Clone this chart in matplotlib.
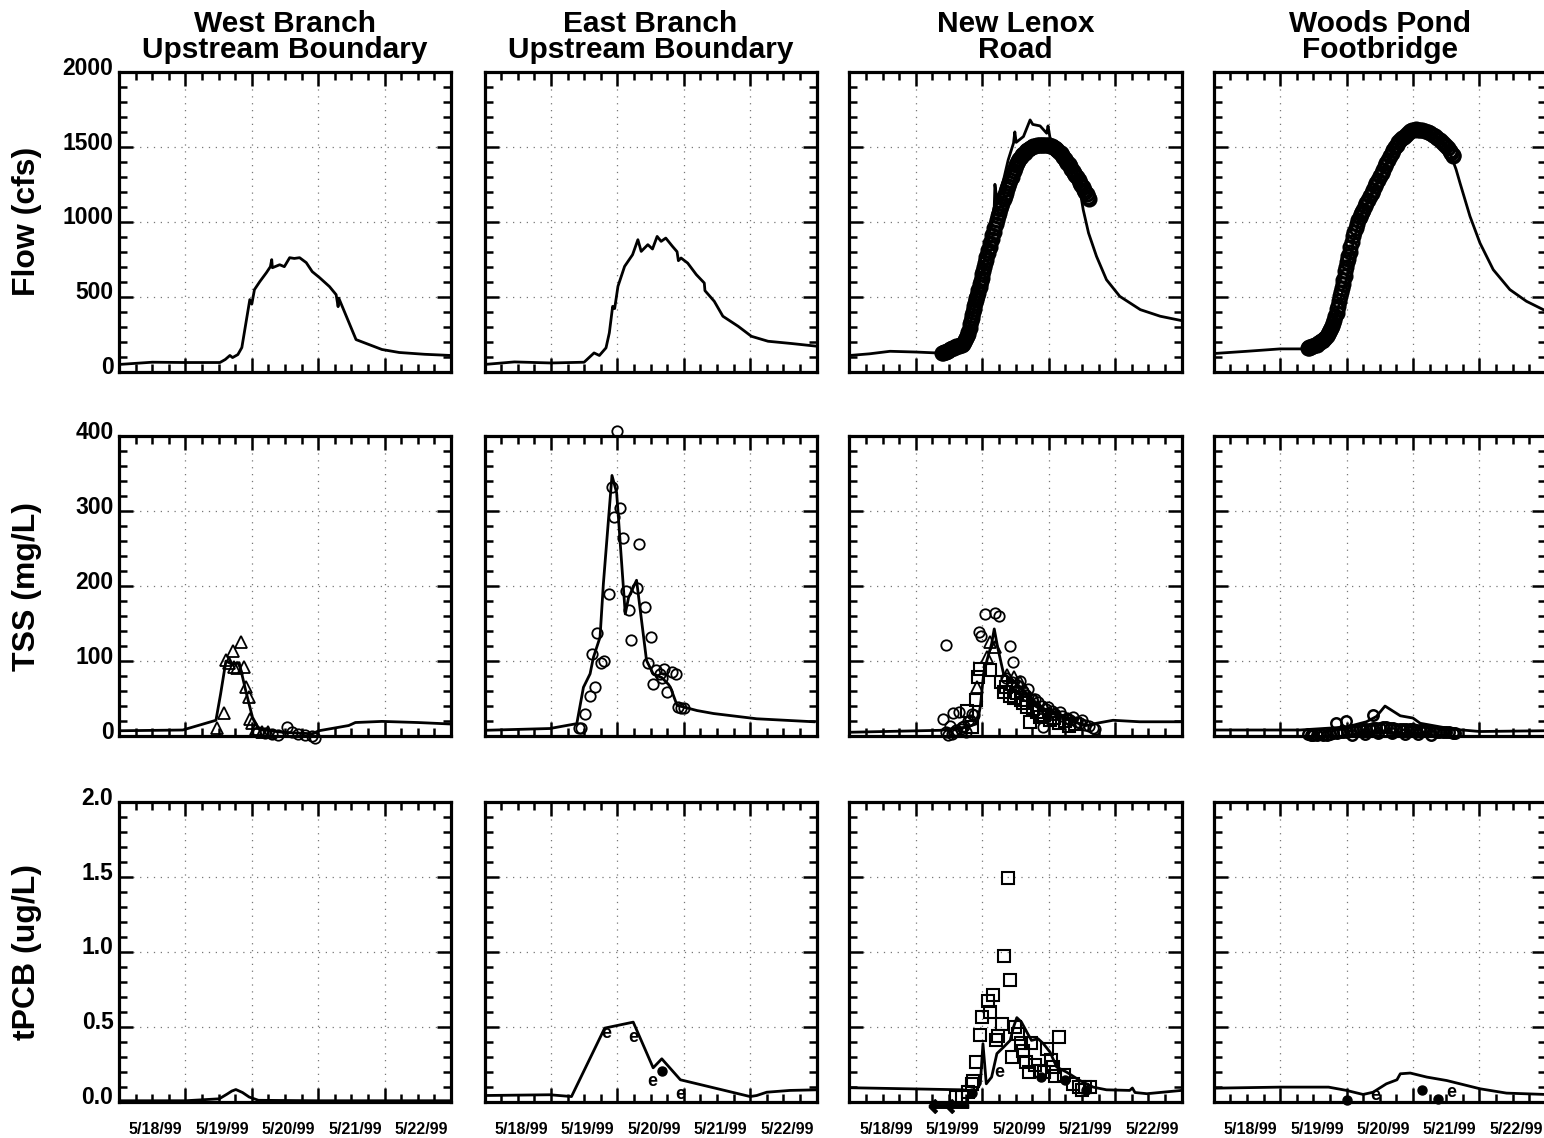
import matplotlib
matplotlib.use("Agg")
import matplotlib.pyplot as plt
import matplotlib.transforms as mtransforms
from matplotlib.ticker import FixedLocator, MultipleLocator, FormatStrFormatter, NullFormatter

plt.rcParams['font.family'] = ['Liberation Sans', 'DejaVu Sans']
plt.rcParams['font.weight'] = 'bold'

# ---------------- text ----------------
stations = ["West Branch\nUpstream Boundary", "East Branch\nUpstream Boundary",
            "New Lenox\nRoad", "Woods Pond\nFootbridge"]
row_labels = ["Flow (cfs)", "TSS (mg/L)", "tPCB (ug/L)"]
date_ticks = [1, 2, 3, 4, 5]          # days after 5/17/99
date_labels = ["5/18/99", "5/19/99", "5/20/99", "5/21/99", "5/22/99"]

# ---------------- Flow (cfs) ----------------
wb_flow_t = [0.0, 0.5, 1.0, 1.52, 1.60, 1.67, 1.71, 1.79, 1.85, 1.92, 1.97, 2.00, 2.04, 2.12, 2.22,
             2.28, 2.30, 2.31, 2.42, 2.49, 2.57, 2.64, 2.72, 2.82, 2.91, 3.02, 3.17, 3.27, 3.30,
             3.31, 3.57, 3.96, 4.22, 4.60, 5.0]
wb_flow_v = [47, 62, 60, 60, 80, 107, 93, 113, 160, 347, 480, 450, 547, 600, 660,
             700, 747, 693, 713, 700, 760, 755, 760, 727, 667, 627, 567, 513, 433,
             490, 213, 147, 127, 115, 107]

eb_flow_t = [0.0, 0.45, 1.0, 1.5, 1.65, 1.73, 1.83, 1.88, 1.93, 1.96, 2.01, 2.11, 2.23, 2.31, 2.36,
             2.46, 2.53, 2.60, 2.66, 2.73, 2.83, 2.90, 2.92, 2.96, 3.06, 3.19, 3.31, 3.32, 3.46,
             3.59, 3.82, 4.02, 4.27, 4.62, 5.0]
eb_flow_v = [47, 64, 57, 62, 124, 107, 158, 258, 435, 420, 569, 702, 780, 880, 802,
             847, 818, 902, 869, 891, 836, 800, 740, 758, 724, 647, 591, 540, 469,
             369, 302, 235, 202, 187, 169]

nl_flow_model_t = [0, 0.3, 0.61, 1.0, 1.31, 1.45, 1.6, 1.71, 1.78, 1.85, 1.92, 2.0, 2.08, 2.14, 2.18,
                   2.19, 2.22, 2.32, 2.39, 2.47, 2.49, 2.51, 2.62, 2.72, 2.76, 2.87, 2.97, 2.99, 3.02,
                   3.1, 3.22, 3.37, 3.47, 3.52, 3.60, 3.72, 3.87, 4.07, 4.38, 4.68, 5.0]
nl_flow_model_v = [107, 118, 135, 130, 124, 130, 150, 175, 240, 380, 520, 680, 840, 1013, 1100,
                   1250, 1147, 1280, 1413, 1525, 1600, 1530, 1569, 1680, 1650, 1640, 1591, 1640, 1560,
                   1515, 1458, 1347, 1213, 1080, 925, 769, 613, 502, 413, 369, 340]
nl_flow_obs_t = [1.39, 1.41, 1.42, 1.44, 1.45, 1.47, 1.48, 1.50, 1.51, 1.53, 1.55, 1.57, 1.59, 1.61,
                 1.63, 1.65, 1.67, 1.69, 1.71, 1.73, 1.74, 1.76, 1.77, 1.78, 1.79, 1.81, 1.82, 1.83,
                 1.84, 1.85, 1.86, 1.87, 1.88, 1.89, 1.90, 1.91, 1.92, 1.93, 1.94, 1.96, 1.97, 1.98,
                 1.99, 2.00, 2.01, 2.03, 2.04, 2.05, 2.06, 2.08, 2.09, 2.11, 2.12, 2.14, 2.15, 2.17,
                 2.18, 2.20, 2.22, 2.24, 2.25, 2.27, 2.28, 2.30, 2.32, 2.34, 2.35, 2.37, 2.38, 2.40,
                 2.42, 2.44, 2.45, 2.47, 2.49, 2.51, 2.52, 2.54, 2.56, 2.58, 2.60, 2.62, 2.64, 2.66,
                 2.68, 2.70, 2.72, 2.75, 2.77, 2.80, 2.82, 2.85, 2.87, 2.90, 2.92, 2.95, 2.97, 3.00,
                 3.02, 3.05, 3.07, 3.09, 3.11, 3.13, 3.15, 3.18, 3.20, 3.22, 3.24, 3.26, 3.28, 3.30,
                 3.32, 3.34, 3.36, 3.38, 3.40, 3.43, 3.45, 3.47, 3.49, 3.51, 3.53, 3.55, 3.57, 3.59,
                 3.60]
nl_flow_obs_v = [124, 126, 128, 130, 132, 135, 138, 142, 147, 151, 155, 159, 163, 167,
                 170, 173, 176, 180, 185, 198, 210, 225, 240, 250, 262, 290, 320, 340,
                 360, 378, 395, 418, 440, 460, 480, 492, 505, 525, 545, 565, 585, 605,
                 625, 648, 670, 698, 725, 745, 765, 788, 810, 834, 858, 884, 910, 932,
                 955, 985, 1013, 1037, 1060, 1083, 1105, 1128, 1150, 1172, 1195, 1218, 1240, 1261,
                 1282, 1301, 1320, 1340, 1360, 1376, 1392, 1406, 1420, 1433, 1445, 1454, 1462, 1471,
                 1480, 1488, 1495, 1500, 1505, 1509, 1512, 1514, 1515, 1515, 1515, 1514, 1512, 1510,
                 1508, 1504, 1500, 1493, 1485, 1476, 1467, 1456, 1445, 1433, 1420, 1408, 1395, 1383,
                 1370, 1355, 1340, 1326, 1312, 1296, 1280, 1262, 1245, 1230, 1215, 1200, 1185, 1168,
                 1150]

wp_flow_model_t = [0, 0.5, 1.0, 1.3, 1.65, 1.72, 1.77, 1.80, 1.90, 2.0, 2.1, 2.2, 2.3, 2.4, 2.5, 2.6,
                   2.7, 2.8, 2.9, 3.0, 3.06, 3.15, 3.31, 3.45, 3.56, 3.65, 3.71, 3.86, 4.01, 4.21,
                   4.46, 4.71, 5.0]
wp_flow_model_v = [120, 135, 151, 151, 151, 170, 220, 280, 470, 620, 860, 1030, 1110, 1210, 1290, 1390,
                   1470, 1540, 1591, 1625, 1636, 1625, 1591, 1530, 1458, 1350, 1258, 1036, 858, 680,
                   547, 469, 405]
wp_flow_obs_t = [1.42, 1.43, 1.44, 1.46, 1.48, 1.50, 1.52, 1.55, 1.57, 1.60, 1.62, 1.64, 1.66, 1.68,
                 1.70, 1.72, 1.74, 1.75, 1.77, 1.78, 1.80, 1.81, 1.83, 1.85, 1.86, 1.87, 1.89, 1.90,
                 1.91, 1.93, 1.94, 1.95, 1.97, 1.98, 1.99, 2.01, 2.02, 2.03, 2.05, 2.06, 2.08, 2.10,
                 2.12, 2.14, 2.16, 2.18, 2.20, 2.22, 2.24, 2.25, 2.28, 2.30, 2.33, 2.35, 2.38, 2.40,
                 2.43, 2.45, 2.48, 2.50, 2.53, 2.55, 2.58, 2.60, 2.63, 2.65, 2.68, 2.70, 2.73, 2.76,
                 2.78, 2.81, 2.84, 2.86, 2.89, 2.92, 2.95, 2.98, 3.01, 3.04, 3.07, 3.11, 3.14, 3.18,
                 3.22, 3.26, 3.30, 3.33, 3.37, 3.41, 3.44, 3.47, 3.50, 3.53, 3.56, 3.58, 3.60, 3.61]
wp_flow_obs_v = [158, 160, 162, 165, 168, 172, 176, 180, 187, 195, 201, 208, 216, 224,
                 237, 250, 262, 275, 290, 302, 322, 345, 368, 391, 415, 440, 470, 502,
                 531, 560, 585, 613, 640, 670, 700, 730, 750, 769, 800, 830, 866, 902,
                 931, 960, 987, 1013, 1032, 1050, 1065, 1080, 1103, 1125, 1147, 1169, 1192, 1215,
                 1237, 1258, 1281, 1303, 1325, 1347, 1370, 1392, 1414, 1436, 1457, 1478, 1496, 1514,
                 1530, 1545, 1557, 1569, 1582, 1594, 1603, 1612, 1615, 1618, 1616, 1614, 1610, 1605,
                 1598, 1591, 1580, 1570, 1558, 1547, 1533, 1520, 1505, 1491, 1475, 1460, 1448, 1436]

# ---------------- TSS (mg/L) ----------------
wb_tss_model_t = [0, 0.96, 1.46, 1.53, 1.61, 1.70, 1.81, 1.91, 2.01, 2.11, 2.46, 2.91, 3.01, 3.46,
                  3.56, 3.96, 4.5, 5.0]
wb_tss_model_v = [7, 8, 21, 56, 100, 96, 98, 60, 25, 9, 5, 3, 7, 14, 18, 19.5, 18, 16]
wb_tss_tri_t = [1.48, 1.58, 1.61, 1.66, 1.71, 1.73, 1.78, 1.83, 1.88, 1.91, 1.96, 1.98, 2.01, 2.06,
                2.15, 2.25]
wb_tss_tri_v = [11, 31, 101, 97, 114, 92, 91, 125, 92, 65, 52, 23, 18, 10, 6, 5]
wb_tss_obs_t = [2.10, 2.20, 2.30, 2.40, 2.53, 2.60, 2.70, 2.80, 2.90, 2.95]
wb_tss_obs_v = [6, 4, 3, 2, 12, 5, 3, 2, 0, -3]

eb_tss_model_t = [0, 0.985, 1.39, 1.49, 1.59, 1.64, 1.74, 1.79, 1.92, 1.99, 2.12, 2.17, 2.29, 2.44,
                  2.54, 2.67, 2.77, 2.80, 2.90, 3.20, 3.45, 4.10, 4.96]
eb_tss_model_v = [7.6, 10, 16.5, 65, 83, 105, 132, 203, 348, 325, 163, 185, 208, 101,
                  83, 78, 69, 65, 41, 34, 30, 23, 19]
eb_tss_obs_t = [1.99, 1.92, 1.95, 2.04, 2.08, 2.33, 2.13, 2.17, 2.30, 2.42, 1.88, 1.70, 2.21, 2.50,
                1.62, 1.75, 1.80, 2.46, 1.66, 1.59, 1.51, 1.42, 1.46, 2.54, 2.59, 2.64, 2.71, 2.68,
                2.75, 2.82, 2.89, 2.91, 2.96, 3.01]
eb_tss_obs_v = [408, 333, 293, 305, 265, 256, 193, 168, 198, 172, 190, 137, 128, 132,
                109, 97, 100, 98, 65, 54, 30, 11, 11, 69, 88, 83, 89, 78,
                59, 85, 83, 39, 38, 38]

nl_tss_model_t = [0, 1.36, 1.77, 1.92, 1.97, 2.02, 2.07, 2.14, 2.18, 2.23, 2.32, 2.47, 2.67, 2.87,
                  3.12, 3.37, 3.57, 3.72, 3.97, 4.37, 5.0]
nl_tss_model_v = [5, 7.6, 12, 16.5, 39, 83, 101, 123, 143, 119, 83, 74, 57, 39,
                  28, 19, 14, 17, 21, 19, 19]
nl_tss_obs_t = [1.45, 2.04, 2.19, 2.25, 1.95, 1.98, 2.41, 2.46, 1.41, 1.56, 1.65, 1.51, 1.60, 1.70,
                1.78, 1.85, 1.45, 1.55, 1.75, 2.69, 2.57, 2.79, 2.99, 3.17, 2.91, 3.37, 3.50,
                2.36, 2.44, 2.52, 2.62, 2.66, 2.75, 2.84, 2.90, 2.96, 3.05, 3.10, 3.20, 3.27,
                3.32, 3.42, 3.47, 3.55, 3.60, 3.66, 3.70, 1.48, 1.58, 1.68, 1.72, 1.82, 1.88]
nl_tss_obs_v = [122, 163, 164, 160, 139, 134, 120, 99, 23, 31, 32, 13, 8, 12,
                20, 30, 5, 3, 6, 63, 74, 50, 39, 32, 12, 25, 21,
                78, 72, 68, 60, 55, 50, 45, 40, 36, 33, 30, 27, 24,
                22, 19, 17, 15, 13, 11, 10, 2, 5, 9, 14, 22, 28]
nl_tss_sq_t = [2.11, 1.91, 1.93, 1.96, 2.28, 2.32, 2.42, 2.47, 2.59, 2.67, 2.72, 2.82, 2.87, 3.02,
               1.77, 1.85, 3.15, 3.30, 2.36, 2.52, 2.62, 2.77, 2.93, 3.08, 3.24, 3.40]
nl_tss_sq_v = [88, 48, 79, 90, 72, 59, 54, 51, 48, 39, 19, 32, 25, 21,
               34, 12, 18, 14, 66, 58, 44, 36, 28, 24, 20, 16]
nl_tss_tri_t = [1.92, 2.07, 2.12, 2.19, 2.37, 2.47, 2.57, 2.65, 2.80, 2.95, 3.10]
nl_tss_tri_v = [65, 105, 125, 119, 81, 79, 72, 62, 48, 38, 30]

wp_tss_model_t = [0, 1.3, 2.0, 2.30, 2.45, 2.58, 2.81, 3.0, 3.11, 3.61, 4.01, 4.96]
wp_tss_model_v = [8, 8, 12, 19, 26, 40, 27, 24, 17, 9, 6, 7]
wp_tss_obs_t = [1.84, 1.99, 2.40, 1.42, 1.46, 1.50, 1.55, 1.60, 1.65, 1.70, 1.75, 1.80, 1.85, 1.90,
                1.95, 2.00, 2.05, 2.10, 2.15, 2.20, 2.25, 2.30, 2.35, 2.40, 2.45, 2.50, 2.55, 2.60,
                2.65, 2.70, 2.75, 2.80, 2.85, 2.90, 2.95, 3.00, 3.05, 3.10, 3.15, 3.20, 3.25, 3.30,
                3.35, 3.40, 3.45, 3.50, 3.55, 3.60, 3.64, 2.08, 2.28, 2.48, 2.68, 2.88, 3.08, 3.28]
wp_tss_obs_v = [18, 20, 28, 3, 2, 1, 2, 3, 2, 2, 3, 4, 4, 5,
                5, 6, 7, 8, 8, 9, 9, 10, 10, 11, 11, 11, 12, 12,
                11, 11, 10, 10, 10, 9, 9, 9, 8, 8, 8, 7, 7, 7,
                6, 6, 5, 5, 5, 4, 4, 2, 3, 4, 4, 3, 3, 2]

# ---------------- tPCB (ug/L) ----------------
wb_pcb_model_t = [0, 1.0, 1.51, 1.63, 1.70, 1.76, 1.86, 1.96, 2.1, 3.0, 4.0, 5.0]
wb_pcb_model_v = [0.005, 0.005, 0.018, 0.05, 0.07, 0.08, 0.06, 0.03, 0.008, 0.005, 0.005, 0.005]

eb_pcb_model_t = [0, 0.985, 1.31, 1.81, 2.24, 2.54, 2.67, 2.95, 4.0, 4.1, 4.25, 4.6, 5.0]
eb_pcb_model_v = [0.04, 0.045, 0.033, 0.49, 0.53, 0.225, 0.285, 0.145, 0.033, 0.04, 0.062, 0.074, 0.078]
eb_pcb_e_t = [1.83, 2.24, 2.53, 2.95]
eb_pcb_e_v = [0.457, 0.43, 0.136, 0.05]
eb_pcb_dot_t = [2.67]
eb_pcb_dot_v = [0.207]

nl_pcb_model_t = [0, 0.86, 1.71, 1.89, 1.97, 2.01, 2.06, 2.14, 2.22, 2.32, 2.42, 2.47, 2.52, 2.59,
                  2.67, 2.74, 2.84, 2.92, 3.02, 3.12, 3.27, 3.47, 3.67, 3.87, 4.22, 4.26, 4.30, 4.48,
                  5.0]
nl_pcb_model_v = [0.092, 0.085, 0.078, 0.062, 0.118, 0.386, 0.118, 0.163, 0.32, 0.363, 0.408, 0.497,
                  0.56, 0.53, 0.464, 0.408, 0.419, 0.386, 0.33, 0.23, 0.196, 0.14, 0.096, 0.078,
                  0.074, 0.09, 0.06, 0.052, 0.074]
nl_pcb_sq_t = [2.38, 2.32, 2.42, 2.16, 2.08, 2.12, 2.00, 2.29, 1.97, 2.24, 2.21, 2.49, 2.54, 2.58,
               2.74, 2.62, 3.16, 2.98, 3.03, 2.45, 1.91, 2.66, 2.79, 2.70, 2.87, 2.93, 3.07, 3.10,
               3.23, 1.86, 1.84, 3.37, 3.45, 3.54, 3.62, 3.50, 1.79, 1.61, 1.69]
nl_pcb_sq_v = [1.49, 0.972, 0.81, 0.709, 0.669, 0.597, 0.564, 0.52, 0.446, 0.435, 0.408, 0.50, 0.453,
               0.39, 0.39, 0.334, 0.43, 0.352, 0.279, 0.296, 0.263, 0.263, 0.241, 0.196, 0.207,
               0.20, 0.23, 0.167, 0.18, 0.134, 0.12, 0.118, 0.094, 0.10, 0.094, 0.08, 0.062,
               0.033, 0.033]
nl_pcb_dot_t = [2.89, 3.25, 3.56, 1.84]
nl_pcb_dot_v = [0.163, 0.145, 0.074, 0.06]
nl_pcb_e_t = [2.26]
nl_pcb_e_v = [0.196]
nl_pcb_nd_t = [1.37, 1.62]
nl_pcb_nd_v = [-0.03, -0.03]

wp_pcb_model_t = [0, 1.0, 1.73, 2.0, 2.25, 2.40, 2.6, 2.76, 2.81, 2.96, 3.21, 3.51, 3.71, 4.01,
                  4.41, 5.0]
wp_pcb_model_v = [0.089, 0.096, 0.096, 0.074, 0.047, 0.062, 0.118, 0.145, 0.185, 0.19, 0.163, 0.14,
                  0.118, 0.085, 0.056, 0.047]
wp_pcb_dot_t = [2.0, 3.13, 3.38]
wp_pcb_dot_v = [0.007, 0.074, 0.018]
wp_pcb_e_t = [2.43, 3.58]
wp_pcb_e_v = [0.04, 0.062]

# ---------------- figure ----------------
W, H = 1544, 1138
fig = plt.figure(figsize=(W / 100, H / 100), dpi=100)

col_left_px = [119, 484.5, 849.5, 1213.7]
ax_w_px = 332
row_top_px = [72, 436.5, 802]
ax_h_px = 299.5

yl = [(0, 2000), (0, 400), (0, 2.0)]
ymaj = [500, 100, 0.5]
ymin = [100, 20, 0.1]
yfmt = ['%d', '%d', '%.1f']

LW = 2.0
circ = dict(ls='none', marker='o', mfc='none', mec='black', ms=7.5, mew=1.3, clip_on=False, zorder=4)
band = dict(ls='none', marker='o', mfc='none', mec='black', ms=9.5, mew=2.1, clip_on=False, zorder=4)
tri = dict(ls='none', marker='^', mfc='none', mec='black', ms=8, mew=1.3, clip_on=False, zorder=4)
sq = dict(ls='none', marker='s', mfc='none', mec='black', ms=8.5, mew=1.5, clip_on=False, zorder=4)
dot = dict(ls='none', marker='o', mfc='black', mec='black', ms=6.5, clip_on=False, zorder=4)
line = dict(color='black', lw=LW, zorder=3, solid_joinstyle='round')

axes = [[None] * 4 for _ in range(3)]
for r in range(3):
    for c in range(4):
        left = col_left_px[c] / W
        bottom = 1 - (row_top_px[r] + ax_h_px) / H
        ax = fig.add_axes([left, bottom, ax_w_px / W, ax_h_px / H])
        axes[r][c] = ax
        ax.set_xlim(0, 5)
        ax.set_ylim(*yl[r])
        ax.xaxis.set_major_locator(FixedLocator(date_ticks))
        ax.xaxis.set_minor_locator(MultipleLocator(0.25))
        ax.yaxis.set_major_locator(MultipleLocator(ymaj[r]))
        ax.yaxis.set_minor_locator(MultipleLocator(ymin[r]))
        ax.tick_params(which='both', direction='in', top=True, right=True, width=1.8,
                       color='black')
        ax.tick_params(which='major', length=10)
        ax.tick_params(which='minor', length=6)
        ax.tick_params(axis='y', labelsize=16.5, pad=4)
        ax.tick_params(axis='x', labelsize=11.5, pad=15)
        for s in ax.spines.values():
            s.set_linewidth(2.3)
            s.set_zorder(6)
        ax.grid(True, which='major', color='#777777', linestyle=(0, (1, 4.5)), linewidth=0.9)
        ax.set_axisbelow(True)
        if c == 0:
            ax.yaxis.set_major_formatter(FormatStrFormatter(yfmt[r]))
            for lbl in ax.get_yticklabels():
                lbl.set_fontweight('bold')
                lbl.set_transform(lbl.get_transform() +
                                  mtransforms.ScaledTranslation(0, 4.5 / 72, fig.dpi_scale_trans))
        else:
            ax.yaxis.set_major_formatter(NullFormatter())
        if r == 2:
            ax.set_xticklabels(date_labels, fontweight='bold', ha='right')
            for lbl in ax.get_xticklabels():
                lbl.set_transform(lbl.get_transform() +
                                  mtransforms.ScaledTranslation(-2 / 72, 0, fig.dpi_scale_trans))
        else:
            ax.xaxis.set_major_formatter(NullFormatter())
        if r == 0:
            ax.set_title(stations[c], fontsize=21.5, fontweight='bold', linespacing=0.9, pad=10)

for r in range(3):
    cy = row_top_px[r] + ax_h_px / 2
    fig.text(27 / W, 1 - cy / H, row_labels[r], rotation=90, fontsize=23, fontweight='bold',
             ha='center', va='center')

# ---- row 1: flow
axes[0][0].plot(wb_flow_t, wb_flow_v, **line)
axes[0][1].plot(eb_flow_t, eb_flow_v, **line)
axes[0][2].plot(nl_flow_model_t, nl_flow_model_v, **line)
axes[0][2].plot(nl_flow_obs_t, nl_flow_obs_v, **band)
axes[0][3].plot(wp_flow_model_t, wp_flow_model_v, **line)
axes[0][3].plot(wp_flow_obs_t, wp_flow_obs_v, **band)

# ---- row 2: TSS
ax = axes[1][0]
ax.plot(wb_tss_model_t, wb_tss_model_v, **line)
ax.plot(wb_tss_tri_t, wb_tss_tri_v, **tri)
ax.plot(wb_tss_obs_t, wb_tss_obs_v, **circ)
ax = axes[1][1]
ax.plot(eb_tss_model_t, eb_tss_model_v, **line)
ax.plot(eb_tss_obs_t, eb_tss_obs_v, **circ)
ax = axes[1][2]
ax.plot(nl_tss_model_t, nl_tss_model_v, **line)
ax.plot(nl_tss_obs_t, nl_tss_obs_v, **circ)
ax.plot(nl_tss_sq_t, nl_tss_sq_v, **sq)
ax.plot(nl_tss_tri_t, nl_tss_tri_v, **tri)
ax = axes[1][3]
ax.plot(wp_tss_model_t, wp_tss_model_v, **line)
ax.plot(wp_tss_obs_t, wp_tss_obs_v, **dict(circ, mew=1.8))

# ---- row 3: tPCB
def e_marks(ax, ts, vs):
    for t, v in zip(ts, vs):
        ax.text(t, v, 'e', fontsize=13, fontweight='bold', ha='center', va='center',
                zorder=5, clip_on=False)

ax = axes[2][0]
ax.plot(wb_pcb_model_t, wb_pcb_model_v, **line)
ax = axes[2][1]
ax.plot(eb_pcb_model_t, eb_pcb_model_v, **line)
ax.plot(eb_pcb_dot_t, eb_pcb_dot_v, **dot)
e_marks(ax, eb_pcb_e_t, eb_pcb_e_v)
ax = axes[2][2]
ax.plot(nl_pcb_model_t, nl_pcb_model_v, **line)
ax.plot(nl_pcb_sq_t, nl_pcb_sq_v, **sq)
ax.plot(nl_pcb_dot_t, nl_pcb_dot_v, **dot)
ax.plot(nl_pcb_nd_t, nl_pcb_nd_v, ls='none', marker=r'$\leftarrow$', color='black', ms=16,
        clip_on=False, zorder=5)
e_marks(ax, nl_pcb_e_t, nl_pcb_e_v)
ax = axes[2][3]
ax.plot(wp_pcb_model_t, wp_pcb_model_v, **line)
ax.plot(wp_pcb_dot_t, wp_pcb_dot_v, **dot)
e_marks(ax, wp_pcb_e_t, wp_pcb_e_v)

fig.savefig("out.png", dpi=100)
